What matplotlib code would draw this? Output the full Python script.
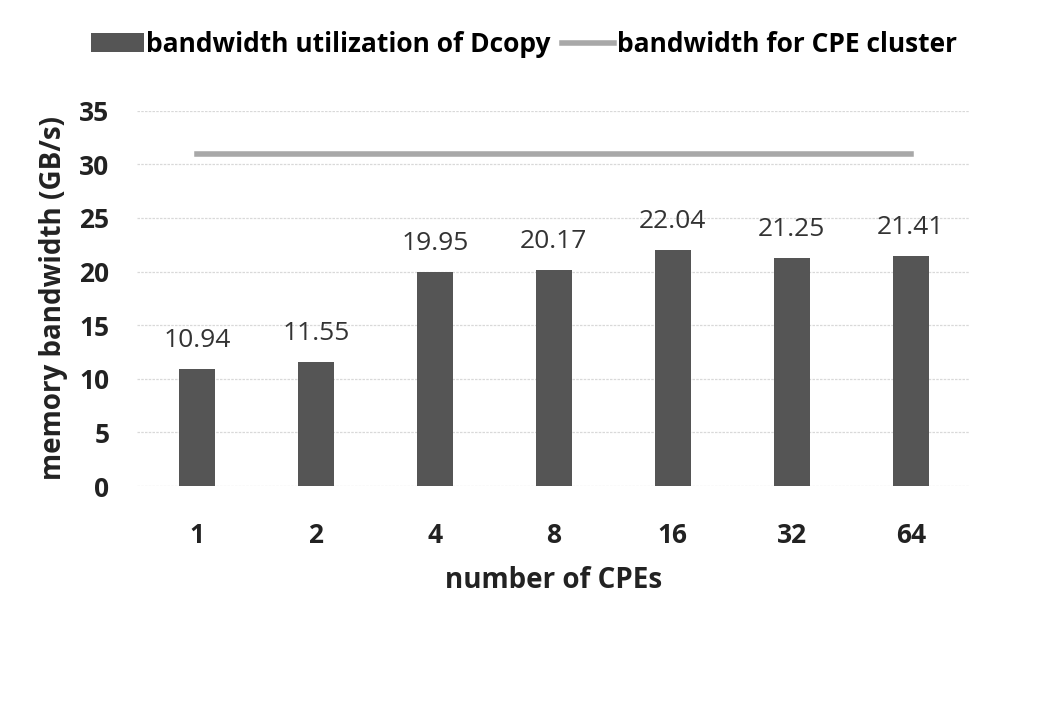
import numpy as np
import matplotlib.pyplot as plt

# data
cpes = ["1", "2", "4", "8", "16", "32", "64"]
dcopy_bw = [10.94, 11.55, 19.95, 20.17, 22.04, 21.25, 21.41]
cluster_bw = [31, 31, 31, 31, 31, 31, 31]

plt.rcParams['font.family'] = ['Open Sans', 'DejaVu Sans']
FS = 19

fig = plt.figure(figsize=(10.48, 7.19), dpi=100)
ax = fig.add_axes([0.131, 0.324, 0.795, 0.522])

x = np.arange(len(cpes))
bars = ax.bar(x, dcopy_bw, width=0.3, color='#555555', zorder=2,
              label='bandwidth utilization of Dcopy')
line, = ax.plot(x, cluster_bw, color='#a8a8a8', linewidth=4, zorder=3,
                label='bandwidth for CPE cluster')

# value labels above bars
for xi, v in zip(x, dcopy_bw):
    ax.text(xi, v + 1.5, f"{v:.2f}", ha='center', va='bottom',
            fontsize=FS, color='#333333')

ax.set_xlim(-0.5, len(cpes) - 0.5)
ax.set_ylim(0, 35)
ax.set_yticks(range(0, 36, 5))
ax.set_xticks(x)
ax.set_xticklabels(cpes)
ax.tick_params(axis='both', length=0, labelsize=FS, colors='#222222')
ax.tick_params(axis='x', pad=26)
ax.tick_params(axis='y', pad=20)
for lab in ax.get_xticklabels() + ax.get_yticklabels():
    lab.set_fontweight('bold')

ax.grid(axis='y', color='#d9d9d9', linewidth=0.9, linestyle=(0, (2, 1)), zorder=0)
for s in ax.spines.values():
    s.set_visible(False)

ax.set_xlabel("number of CPEs", fontsize=FS + 1, fontweight='bold', labelpad=12,
              color='#222222')
ax.set_ylabel("memory bandwidth (GB/s)", fontsize=FS + 1, fontweight='bold',
              labelpad=8, color='#222222')

fig.legend(handles=[bars, line], loc='upper center', bbox_to_anchor=(0.5, 0.99),
           ncol=2, frameon=False, prop={'size': FS, 'weight': 'bold'},
           handlelength=2.0, handletextpad=0.1, columnspacing=0.4)

fig.savefig("out.png", dpi=100)
